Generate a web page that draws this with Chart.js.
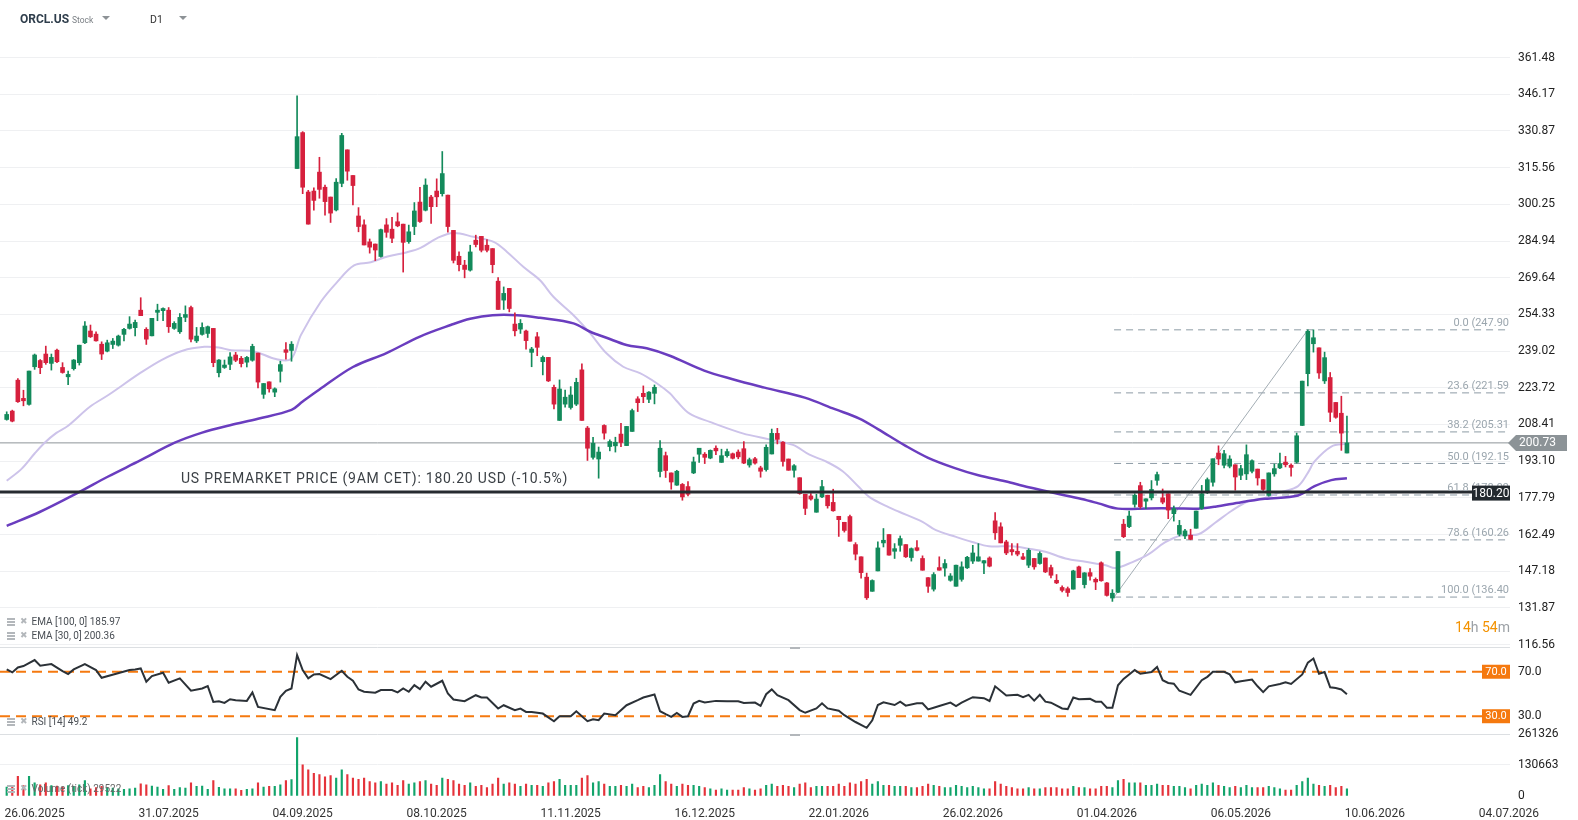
<!DOCTYPE html>
<html>
<head>
<meta charset="utf-8">
<script src="https://cdn.jsdelivr.net/npm/chart.js@4.4.1/dist/chart.umd.min.js"></script>
<style>
  html, body { margin: 0; padding: 0; background: #fff; }
  #wrap { position: relative; width: 1578px; height: 820px; overflow: hidden; font-family: Roboto, "Noto Sans", sans-serif; }
  #chart { position: absolute; left: 0; top: 0; }
  .t { position: absolute; white-space: nowrap; line-height: 1; }
  .tri { position: absolute; width: 0; height: 0; border-left: 4px solid transparent; border-right: 4px solid transparent; border-top: 4px solid #8d9296; }
  .ham { position: absolute; width: 8px; height: 2px; background: #b3b7bb; box-shadow: 0 3px 0 #b3b7bb, 0 6px 0 #b3b7bb; }
  .xx { position: absolute; font-size: 9px; line-height: 1; color: #b3b7bb; font-family: "DejaVu Sans", sans-serif; }
  .leg { font-size: 10px; color: #4a4f55; }
</style>
</head>
<body>
<div id="wrap">
  <canvas id="chart" width="1578" height="820"></canvas>

  <div class="t" style="left:20px;top:13px;font-size:12px;font-weight:bold;color:#2e3d4b">ORCL.US</div>
  <div class="t" style="left:72px;top:15.5px;font-size:8.5px;color:#7a7f84">Stock</div>
  <div class="tri" style="left:102px;top:16px"></div>
  <div class="t" style="left:150px;top:14.5px;font-size:10.5px;color:#333">D1</div>
  <div class="tri" style="left:179px;top:16px"></div>

  <div class="ham" style="left:7px;top:618px"></div><div class="xx" style="left:20px;top:617px">✖</div>
  <div class="t leg" style="left:31.5px;top:617.4px">EMA [100, 0] 185.97</div>
  <div class="ham" style="left:7px;top:631.5px"></div><div class="xx" style="left:20px;top:630.5px">✖</div>
  <div class="t leg" style="left:31.5px;top:630.8px">EMA [30, 0] 200.36</div>
  <div class="ham" style="left:7px;top:717.5px"></div><div class="xx" style="left:20px;top:716.5px">✖</div>
  <div class="t leg" style="left:31.5px;top:716.8px">RSI [14] 49.2</div>
  <div class="ham" style="left:7px;top:785px"></div><div class="xx" style="left:20px;top:784px">✖</div>
  <div class="t leg" style="left:31.5px;top:784.4px;color:#666">Volume (tick) 29522</div>

  <div class="t" style="left:181px;top:471.4px;font-size:14px;letter-spacing:0.78px;color:#3c4146">US PREMARKET PRICE (9AM CET): 180.20 USD (-10.5%)</div>
  <div class="t" style="right:68px;top:619.8px;font-size:14px;color:#9ba0a5"><span style="color:#f39200">14</span>h <span style="color:#f39200">54</span>m</div>
</div>

<script>
const dateIdx = [5, 29, 53, 77, 101, 125, 149, 173, 197, 221, 245, 269];
const dateLabels = ['26.06.2025', '31.07.2025', '04.09.2025', '08.10.2025', '11.11.2025', '16.12.2025',
  '22.01.2026', '26.02.2026', '01.04.2026', '06.05.2026', '10.06.2026', '04.07.2026'];
const priceTicks = [116.56, 131.87, 147.18, 162.49, 177.79, 193.10, 208.41, 223.72, 239.02,
  254.33, 269.64, 284.94, 300.25, 315.56, 330.87, 346.17, 361.48];
const rsiTicks = [30, 70];
const volTicks = [0, 130663, 261326];

const opens = [
  210.5,214.0,226.9,219.3,216.8,232.5,235.1,237.8,233.9,239.4,
  232.2,228.3,231.7,234.2,242.5,247.4,246.1,241.9,239.0,241.8,
  241.5,246.0,248.5,248.8,256.1,248.1,245.4,255.2,255.9,256.1,
  248.5,247.1,253.1,257.2,243.3,246.0,246.4,248.5,230.0,232.2,
  233.5,237.4,236.0,234.4,235.2,238.2,221.0,226.2,221.9,230.6,
  239.6,239.3,315.2,330.2,305.4,305.8,313.7,307.4,303.3,297.9,
  309.0,323.0,312.3,295.4,291.7,284.6,283.7,278.5,291.7,289.9,
  293.0,292.0,284.7,291.0,301.2,297.8,303.3,305.8,304.7,304.1,
  289.4,278.6,274.9,272.8,285.3,286.9,283.2,281.8,268.2,260.3,
  265.2,250.3,248.2,247.4,238.5,245.0,234.6,236.4,223.9,210.1,
  216.9,215.5,216.9,231.2,206.9,194.7,194.0,208.0,199.2,199.5,
  204.4,199.6,205.5,219.1,221.4,218.9,221.4,188.8,195.4,188.2,
  183.1,183.4,182.5,188.2,196.0,196.0,194.4,198.5,192.6,195.4,
  196.2,196.9,198.3,191.5,194.1,190.3,189.6,196.1,204.7,201.0,
  194.0,189.3,186.2,179.3,178.6,171.8,178.2,178.9,175.9,170.1,
  167.6,170.0,158.3,153.2,144.7,138.8,147.3,159.0,162.5,155.5,
  158.0,158.3,152.9,157.0,152.5,144.5,139.7,148.7,148.5,143.4,
  140.9,143.8,148.6,151.4,151.4,150.6,152.7,168.2,165.7,159.4,
  156.2,155.5,153.2,149.7,152.5,150.4,152.7,148.7,143.4,140.4,
  139.9,139.7,149.0,141.6,146.6,143.8,150.7,142.3,136.0,138.4,
  166.8,165.8,175.1,182.9,176.4,177.8,185.1,177.8,179.5,171.2,
  162.6,161.9,162.2,165.1,173.4,180.2,184.3,196.5,191.4,191.0,
  191.6,187.2,187.8,188.9,189.8,185.4,178.8,187.8,190.3,192.7,
  191.4,192.7,208.0,229.6,242.1,240.4,226.6,228.0,217.6,213.1,
  196.5];
const highs = [
  213.7,214.4,227.6,222.7,230.7,237.8,235.5,241.1,237.8,239.9,
  234.2,230.7,235.5,241.5,251.3,249.9,247.1,242.9,243.6,244.3,
  245.7,248.5,253.4,252.0,261.3,248.8,252.7,258.6,257.1,257.2,
  251.3,254.7,257.9,257.8,248.9,250.8,249.5,248.5,235.5,235.3,
  238.4,238.5,236.8,236.8,241.9,238.2,225.5,226.2,223.7,234.8,
  242.6,243.0,345.5,330.6,306.1,307.2,319.9,308.3,303.3,311.0,
  329.9,323.0,312.3,298.9,293.8,285.8,283.7,289.9,294.3,294.8,
  296.7,292.0,291.6,301.0,307.4,310.9,304.0,310.9,322.3,304.1,
  289.4,280.4,276.9,283.2,287.4,286.9,285.6,281.8,269.7,265.8,
  265.2,255.0,252.2,247.8,240.6,246.8,237.0,236.4,224.9,227.0,
  222.8,224.2,227.7,233.7,207.6,203.1,199.0,208.3,202.0,203.1,
  208.9,207.6,214.8,220.0,224.5,222.1,224.9,201.7,196.9,188.2,
  189.3,183.8,184.6,194.8,198.5,196.7,197.8,199.5,198.1,198.1,
  196.5,197.8,201.3,194.4,194.7,191.0,199.9,206.5,206.8,201.3,
  194.0,191.7,186.2,179.3,179.6,179.3,185.1,178.9,181.4,170.1,
  167.6,170.6,159.1,153.2,146.4,143.6,159.4,165.0,162.5,158.7,
  161.9,158.3,156.9,160.0,153.6,144.5,146.6,153.2,152.0,146.2,
  149.7,151.1,153.4,158.0,158.7,151.6,153.2,171.7,167.4,160.1,
  158.7,158.7,154.6,156.6,152.5,155.3,152.7,149.7,145.8,141.1,
  140.6,147.6,149.3,146.6,148.3,144.4,151.1,142.5,139.5,155.4,
  168.8,172.3,179.5,184.3,177.4,185.0,188.6,181.5,179.5,174.4,
  168.4,164.7,164.7,172.3,183.0,186.1,194.1,199.5,197.6,195.4,
  191.6,191.4,199.9,193.7,189.8,185.4,188.2,191.9,196.5,195.1,
  192.0,204.8,226.5,247.9,247.9,240.4,238.6,230.1,217.6,220.2,
  211.9];
const lows = [
  210.2,209.5,217.6,216.2,216.5,231.4,229.6,233.5,231.1,234.2,
  229.8,225.0,231.1,233.2,242.1,244.7,243.2,235.5,238.7,240.1,
  241.1,243.3,248.2,245.4,253.8,241.8,245.4,251.7,251.7,246.8,
  248.1,246.4,251.3,242.9,242.6,245.7,244.7,232.5,228.3,231.8,
  231.3,234.6,232.4,232.4,234.8,223.7,219.3,221.9,220.0,226.1,
  235.7,234.8,315.2,304.7,292.0,297.8,302.8,295.7,292.7,297.5,
  307.6,310.3,300.0,288.8,283.3,279.9,276.8,278.2,286.5,284.3,
  290.9,272.0,284.0,287.6,292.7,297.5,292.3,299.3,303.7,288.6,
  275.8,272.5,269.6,272.4,282.5,280.4,280.4,271.7,256.4,256.4,
  255.4,245.4,246.4,239.8,232.5,237.1,229.1,226.3,214.9,210.1,
  215.6,214.8,216.3,210.1,193.4,193.9,186.0,202.3,197.4,196.9,
  199.2,199.6,205.5,213.8,217.5,217.5,217.0,186.5,186.3,181.4,
  183.0,176.8,178.6,187.9,192.6,192.1,194.1,195.8,192.6,194.8,
  194.0,194.1,192.1,190.6,191.9,186.4,188.9,196.1,200.3,191.0,
  189.3,186.4,179.3,170.8,176.8,171.8,177.9,173.5,172.2,161.7,
  163.5,159.7,151.9,144.3,135.4,138.8,147.3,157.3,153.9,152.5,
  155.5,152.9,151.4,155.7,147.6,138.3,138.9,147.6,145.1,143.0,
  140.9,143.0,148.3,150.4,151.4,146.2,149.0,160.4,159.0,154.1,
  153.9,153.6,152.0,148.7,148.0,150.1,146.6,144.4,142.0,138.5,
  136.7,139.7,144.5,140.2,143.4,139.5,143.0,136.8,134.6,138.2,
  161.2,165.4,173.9,173.4,173.3,176.9,183.1,175.3,169.1,168.1,
  161.9,160.8,160.3,165.1,173.0,179.6,182.7,191.6,190.3,190.3,
  181.0,185.4,185.4,188.2,183.1,180.9,178.5,186.8,190.0,190.7,
  186.8,192.3,208.0,224.5,238.6,227.6,225.5,209.6,211.0,197.6,
  196.5];
const closes = [
  212.6,209.8,217.9,218.3,230.7,237.4,232.1,234.2,236.4,234.6,
  230.1,229.3,235.3,241.5,249.5,245.0,243.3,237.8,242.5,243.2,
  245.3,248.1,250.3,251.0,253.8,244.0,252.7,256.1,256.8,249.2,
  250.6,253.1,254.3,244.0,245.3,248.9,249.2,234.2,235.3,233.2,
  236.6,235.2,233.8,236.4,241.0,226.1,225.5,223.3,223.3,233.4,
  238.5,241.9,328.5,307.4,292.0,301.9,306.5,301.4,296.6,309.5,
  329.0,314.1,308.1,291.0,283.3,282.4,281.2,289.7,288.6,286.1,
  291.3,284.4,288.8,297.5,293.1,308.3,299.3,303.4,313.1,291.0,
  276.9,275.1,273.1,280.4,283.5,281.1,281.1,275.1,256.4,263.1,
  256.8,247.5,250.6,243.4,239.9,240.6,236.4,226.6,216.9,223.2,
  219.8,220.7,226.0,210.1,198.5,200.6,196.9,204.8,201.3,201.0,
  200.9,207.6,214.2,217.5,220.0,221.9,223.9,198.5,189.2,184.4,
  188.9,178.2,179.3,192.8,198.5,194.7,197.6,197.4,195.4,197.1,
  194.3,194.9,192.3,193.7,192.3,188.9,198.9,204.7,202.2,193.0,
  189.3,191.2,179.6,173.4,177.3,177.3,182.5,174.5,172.4,168.7,
  164.2,159.7,154.3,146.6,136.1,143.3,156.9,160.1,153.9,156.6,
  160.8,153.2,156.6,155.9,147.6,140.9,145.8,147.6,150.4,145.2,
  149.7,149.0,153.0,154.8,153.2,151.6,149.3,163.2,159.0,154.8,
  155.3,154.3,152.2,155.9,149.0,154.6,146.9,145.5,142.3,139.2,
  138.3,147.3,144.5,146.5,145.1,142.7,143.2,137.1,138.0,155.4,
  161.6,170.2,178.9,174.1,177.4,181.3,187.5,176.0,172.7,173.3,
  166.3,164.0,160.5,172.3,179.5,185.4,194.1,194.0,196.2,194.0,
  186.5,190.0,195.8,193.3,186.1,181.3,188.2,190.0,192.1,191.6,
  190.5,203.7,226.5,247.3,244.6,229.9,236.3,213.5,211.4,204.8,
  200.73];
const volumes = [
  37000,37000,82000,44000,82000,55000,47000,55000,44000,42000,
  37000,44000,40000,47000,65000,30000,35000,40000,35000,33000,
  30000,28000,30000,33000,51000,47000,42000,37000,28000,44000,
  28000,35000,33000,55000,40000,42000,28000,65000,36000,30000,
  30000,30000,24000,28000,30000,55000,37000,40000,40000,47000,
  65000,69000,245000,130000,110000,95000,90000,80000,85000,75000,
  110000,90000,75000,70000,75000,60000,55000,60000,50000,55000,
  45000,65000,50000,55000,60000,65000,50000,45000,75000,70000,
  65000,50000,45000,55000,40000,45000,35000,50000,75000,50000,
  55000,50000,40000,50000,45000,45000,40000,55000,60000,70000,
  45000,45000,45000,75000,85000,55000,60000,50000,40000,40000,
  45000,40000,50000,35000,40000,35000,45000,90000,60000,50000,
  40000,50000,45000,45000,40000,35000,30000,25000,30000,25000,
  25000,25000,35000,30000,25000,30000,45000,50000,40000,45000,
  40000,35000,50000,55000,35000,40000,40000,40000,40000,50000,
  40000,55000,50000,60000,70000,50000,60000,45000,45000,40000,
  40000,40000,35000,35000,40000,50000,45000,40000,35000,35000,
  45000,40000,35000,40000,35000,30000,30000,60000,50000,40000,
  35000,30000,30000,35000,30000,30000,35000,35000,35000,30000,
  30000,40000,35000,35000,30000,30000,40000,40000,35000,65000,
  70000,55000,55000,55000,45000,45000,50000,45000,45000,40000,
  40000,35000,30000,45000,50000,45000,55000,45000,40000,35000,
  40000,35000,45000,35000,35000,35000,40000,35000,30000,25000,
  25000,45000,60000,75000,50000,45000,40000,45000,35000,40000,
  29522];

const ema30Idx = [0, 2.7, 5, 6.8, 8.9, 11, 14.9, 18.2, 23.8, 27.7, 31.5, 35.4, 38, 40.2, 44.3, 48.2, 50.9,
  52.7, 56.25, 59.2, 62.2, 65.2, 68.2, 71.7, 74.1, 77.1, 80, 83.6, 87.2, 89.6, 92.5, 95.5, 97.9, 101.5,
  104.5, 107.4, 110.4, 113.4, 116.4, 118.75, 119.9, 122.3, 125.9, 131.8, 136.6, 140.8, 143.75, 146.7,
  149.7, 152.7, 154.5, 158, 159.8, 164, 166.4, 170, 172.9, 175.9, 180, 183, 186, 189.6, 193.2, 196.8,
  198.5, 201.5, 204.5, 207.4, 210.4, 213.4, 216.4, 219.3, 222.3, 225.3, 228.2, 231.25, 233, 234.2,
  237.2, 240];
const ema30Val = [184.9, 190.0, 196.3, 200.8, 204.9, 207.9, 215.8, 220.7, 229.7, 235.3, 239.2, 240.8, 240.5,
  239.4, 238.9, 235.7, 235.7, 245.8, 259.6, 267.9, 274.8, 276.1, 278.5, 280.3, 282.1, 286.2, 288.3,
  286.7, 284.6, 280.4, 274.2, 268.6, 261.7, 254.0, 246.4, 238.1, 232.5, 229.8, 225.6, 221.4, 218.4,
  212.9, 209.5, 204.7, 202.2, 199.9, 195.8, 193.0, 188.9, 182.1, 178.1, 173.8, 172.0, 167.8, 164.3,
  161.5, 159.4, 157.6, 157.6, 156.6, 155.3, 152.5, 151.1, 149.7, 148.5, 150.9, 154.3, 159.2, 162.2,
  162.6, 167.4, 172.3, 176.4, 177.8, 180.2, 182.7, 188.2, 193.0, 199.2, 200.36];

const ema100Idx = [0, 6, 12.8, 18, 24, 30, 35, 40, 45, 51, 53, 56, 62, 68, 74, 79.5, 83, 87, 91.4, 95.5,
  101.5, 104.5, 107.4, 111, 114.6, 118.75, 124.9, 130, 135.7, 142.9, 148.3, 152.7, 156, 160.9, 165,
  169.8, 174, 178.8, 183, 187.8, 192.5, 195.5, 199, 204.5, 209.2, 213.4, 216.4, 221.1, 225.3, 231.25,
  234.2, 237.2, 240];
const ema100Val = [166.1, 172.0, 180.0, 186.5, 193.5, 200.7, 205.0, 208.1, 210.8, 214.5, 218.0, 223.0,
  232.4, 238.2, 245.1, 249.9, 252.5, 254.0, 254.0, 252.9, 250.6, 247.1, 244.6, 241.6, 240.2, 237.1,
  230.9, 227.3, 223.8, 219.6, 214.8, 210.9, 206.5, 199.6, 194.5, 190.2, 187.2, 184.7, 182.2, 179.7,
  177.3, 175.5, 173.3, 173.4, 173.4, 173.3, 174.1, 176.0, 177.4, 178.8, 182.7, 185.2, 185.97];

const rsiIdx = [0, 1, 2, 3, 5, 6, 8, 10, 11, 12, 14, 16, 17, 22, 23, 24, 25, 26, 28, 29, 31, 33, 35, 36,
  37, 38, 39, 40, 41, 43, 44, 45, 48, 49, 50, 51, 52, 53, 54, 55, 56, 58, 60, 61, 62, 63, 64, 66, 67,
  69, 70, 71, 72, 73, 74, 75, 76, 78, 79, 80, 82, 84, 85, 86, 88, 89, 91, 92, 93, 94, 96, 98, 99, 101,
  102, 104, 105, 106, 107, 109, 111, 113, 114, 116, 117, 118, 119, 120, 121, 122, 123, 124, 125, 127,
  129, 131, 132, 134, 135, 136, 137, 138, 140, 142, 143, 145, 146, 147, 149, 150, 152, 154, 155, 156,
  157, 159, 160, 161, 163, 164, 165, 166, 167, 169, 170, 171, 172, 173, 175, 176, 177, 179, 181, 182,
  183, 184, 185, 186, 187, 189, 190, 191, 192, 194, 195, 196, 197, 198, 199, 200, 202, 203, 205, 206,
  207, 208, 209, 210, 212, 214, 215, 216, 218, 219, 220, 221, 223, 224, 225, 226, 228, 229, 230, 232,
  233, 234, 235, 236, 237, 238, 239, 240];
const rsiVal = [72.1, 69.4, 73.9, 75.1, 80.5, 75.4, 76.9, 70.6, 67.9, 72.1, 76.9, 71.5, 64.6, 71.5, 72.1,
  73.0, 61.0, 66.1, 69.1, 60.1, 64.0, 52.9, 55.0, 57.1, 42.9, 43.5, 42.0, 45.3, 44.4, 43.8, 51.4, 38.4,
  35.4, 47.4, 52.9, 55.0, 85.0, 71.5, 64.0, 67.6, 67.9, 63.4, 70.9, 65.5, 61.9, 54.1, 52.0, 51.1, 53.5,
  53.5, 51.4, 55.0, 52.0, 58.0, 54.4, 61.0, 56.5, 61.9, 50.4, 45.0, 43.5, 48.9, 46.8, 46.8, 36.9, 39.9,
  35.4, 36.9, 33.9, 33.9, 32.4, 25.5, 30.0, 30.0, 34.5, 25.5, 27.3, 26.4, 32.4, 30.9, 39.9, 44.4, 46.8,
  49.5, 34.5, 31.8, 29.4, 33.0, 29.4, 30.0, 41.4, 43.8, 42.3, 43.8, 43.5, 43.5, 42.0, 42.3, 39.3, 49.8,
  54.1, 48.9, 44.4, 35.5, 33.1, 37.0, 41.6, 37.0, 34.9, 30.9, 24.8, 19.6, 26.3, 40.1, 42.5, 40.1, 43.1,
  39.5, 41.6, 41.6, 36.1, 37.6, 39.2, 42.2, 39.2, 42.2, 44.7, 47.1, 46.2, 43.7, 56.9, 48.6, 49.2, 47.1,
  49.2, 44.0, 49.2, 43.1, 42.2, 37.0, 36.4, 46.8, 45.3, 45.6, 43.1, 43.1, 37.6, 37.6, 57.8, 63.6, 71.5,
  68.2, 69.7, 74.3, 62.4, 59.9, 59.3, 52.9, 49.2, 62.4, 65.4, 70.0, 70.0, 67.6, 60.5, 61.5, 63.0, 56.9,
  51.7, 56.9, 59.0, 60.5, 59.0, 67.6, 78.2, 81.9, 68.2, 69.7, 56.0, 55.3, 54.0, 49.8];

const lastPrice = 200.73;
const premarketPrice = 180.20;
const fibRatios = [0.0, 23.6, 38.2, 50.0, 61.8, 78.6, 100.0];
const fibLevels = [247.90, 221.59, 205.31, 192.15, 178.99, 160.26, 136.40];
const fibStartIdx = 198.3;
const fibSwing = [[198.3, 136.40], [233, 247.90]];

const xMin = -1.2, xMax = 269.2;
const green = '#138a5b', red = '#d6203d';
const idx = opens.map((_, i) => i);
const candleColors = idx.map(i => closes[i] >= opens[i] ? green : red);
const volColors = idx.map(i => closes[i] >= opens[i] ? '#12a46b' : '#e5323a');
const span = (v, from = xMin, to = xMax) => [{ x: from, y: v }, { x: to, y: v }];
const pts = (xs, ys) => xs.map((x, k) => ({ x, y: ys[k] }));

const flat = { type: 'line', pointRadius: 0, borderWidth: 1, fill: false, tension: 0 };

const datasets = [
  { ...flat, label: 'premarket', data: span(premarketPrice), yAxisID: 'y', borderColor: '#262b30', borderWidth: 3, order: 0 },
  { type: 'bar', label: 'body', data: idx.map(i => ({ x: i, y: [opens[i], closes[i]] })), yAxisID: 'y',
    backgroundColor: candleColors, barThickness: 4, minBarLength: 1, grouped: false, order: 1 },
  { type: 'bar', label: 'wick', data: idx.map(i => ({ x: i, y: [lows[i], highs[i]] })), yAxisID: 'y',
    backgroundColor: candleColors, barThickness: 1, grouped: false, order: 2 },
  { type: 'line', label: 'EMA100', data: pts(ema100Idx, ema100Val), yAxisID: 'y', borderColor: '#6a3dbf',
    borderWidth: 2.5, pointRadius: 0, tension: 0.35, order: 3 },
  { type: 'line', label: 'EMA30', data: pts(ema30Idx, ema30Val), yAxisID: 'y', borderColor: '#cdc3ea',
    borderWidth: 2, pointRadius: 0, tension: 0.35, order: 4 },
  { ...flat, label: 'last', data: span(lastPrice), yAxisID: 'y', borderColor: '#8d9499', order: 5 },
  { ...flat, label: 'swing', data: fibSwing.map(p => ({ x: p[0], y: p[1] })), yAxisID: 'y', borderColor: '#a3adb4', order: 6 },
  ...fibLevels.map(lv => ({ ...flat, label: 'fib', data: span(lv, fibStartIdx, xMax - 0.4), yAxisID: 'y',
    borderColor: '#8d9ba5', borderDash: [7, 5], order: 6 })),
  { type: 'bar', label: 'volume', data: idx.map(i => ({ x: i, y: volumes[i] })), yAxisID: 'yVol',
    backgroundColor: volColors, barThickness: 1.5, grouped: false, order: 2 },
  { ...flat, label: 'rsi70', data: span(70), yAxisID: 'yRsi', borderColor: '#f5790f', borderWidth: 2.2, borderDash: [10, 6], order: 3 },
  { ...flat, label: 'rsi30', data: span(30), yAxisID: 'yRsi', borderColor: '#f5790f', borderWidth: 2.2, borderDash: [10, 6], order: 3 },
  { type: 'line', label: 'RSI', data: pts(rsiIdx, rsiVal), yAxisID: 'yRsi', borderColor: '#2b3137',
    borderWidth: 2, pointRadius: 0, tension: 0, order: 1 }
];

function tag(ctx, x, y, w, h, fill, text, font) {
  ctx.fillStyle = fill;
  ctx.fillRect(x, y - h / 2, w, h);
  ctx.fillStyle = '#fff';
  ctx.font = font;
  ctx.textAlign = 'center';
  ctx.textBaseline = 'middle';
  ctx.fillText(text, x + w / 2, y + 0.5);
}

const overlay = {
  id: 'overlay',
  afterDatasetsDraw(chart) {
    const { ctx, chartArea: a, scales } = chart;
    const y = scales.y, r = scales.yRsi, v = scales.yVol;
    ctx.save();

    ctx.strokeStyle = '#dcdfe2';
    ctx.lineWidth = 1;
    [r.top, v.top].forEach(t => {
      ctx.beginPath();
      ctx.moveTo(a.left, Math.round(t) + 0.5);
      ctx.lineTo(a.right, Math.round(t) + 0.5);
      ctx.stroke();
      ctx.fillStyle = '#b3b7bb';
      ctx.fillRect(790, Math.round(t), 10, 2);
    });

    ctx.font = '11px Roboto';
    ctx.fillStyle = '#9ba6ae';
    ctx.textAlign = 'right';
    ctx.textBaseline = 'bottom';
    fibLevels.forEach((lv, k) => {
      ctx.fillText(fibRatios[k].toFixed(1) + ' (' + lv.toFixed(2), a.right - 1, y.getPixelForValue(lv) - 1);
    });

    tag(ctx, a.right - 38, y.getPixelForValue(premarketPrice) + 1, 38, 15, '#23292e', premarketPrice.toFixed(2), '12px Roboto');

    const py = y.getPixelForValue(lastPrice);
    ctx.fillStyle = '#8c9397';
    ctx.beginPath();
    ctx.moveTo(a.right - 2, py);
    ctx.lineTo(a.right + 6, py - 8);
    ctx.lineTo(a.right + 57, py - 8);
    ctx.lineTo(a.right + 57, py + 8);
    ctx.lineTo(a.right + 6, py + 8);
    ctx.closePath();
    ctx.fill();
    ctx.fillStyle = '#fff';
    ctx.font = '12px Roboto';
    ctx.textAlign = 'left';
    ctx.textBaseline = 'middle';
    ctx.fillText(lastPrice.toFixed(2), a.right + 9, py + 0.5);

    rsiTicks.forEach(t => tag(ctx, a.right - 28, r.getPixelForValue(t), 28, 14, '#f5790f', t.toFixed(1), '11px Roboto'));
    ctx.restore();
  }
};

Chart.defaults.font.family = 'Roboto';

new Chart(document.getElementById('chart'), {
  type: 'bar',
  data: { datasets },
  plugins: [overlay],
  options: {
    responsive: false,
    animation: false,
    devicePixelRatio: 1,
    layout: { padding: { top: 40, left: 0, right: 0, bottom: 0 } },
    plugins: { legend: { display: false }, tooltip: { enabled: false } },
    scales: {
      x: {
        type: 'linear', min: xMin, max: xMax, offset: false,
        grid: { display: false }, border: { display: false },
        afterBuildTicks: s => { s.ticks = dateIdx.map(v => ({ value: v })); },
        afterFit: s => { s.height = 24; },
        ticks: { autoSkip: false, maxRotation: 0, padding: 3, color: '#333', font: { size: 12 },
          callback: (val, k) => dateLabels[k] }
      },
      y: {
        type: 'linear', position: 'right', stack: 'panes', stackWeight: 606.7,
        min: 115.59, max: 368.83,
        grid: { color: '#eff0f2', drawTicks: false }, border: { display: false },
        afterBuildTicks: s => { s.ticks = priceTicks.map(v => ({ value: v })); },
        afterFit: s => { s.width = 68; },
        ticks: { autoSkip: false, padding: 8, color: '#222', font: { size: 12 }, callback: val => val.toFixed(2) }
      },
      yRsi: {
        type: 'linear', position: 'right', stack: 'panes', stackWeight: 86.6,
        min: 14.4, max: 92.3,
        grid: { display: false, drawTicks: false }, border: { display: false },
        afterBuildTicks: s => { s.ticks = rsiTicks.map(v => ({ value: v })); },
        afterFit: s => { s.width = 68; },
        ticks: { autoSkip: false, padding: 8, color: '#222', font: { size: 12 }, callback: val => val.toFixed(1) }
      },
      yVol: {
        type: 'linear', position: 'right', stack: 'panes', stackWeight: 62.4,
        min: 0, max: 261326,
        grid: { drawTicks: false, color: c => (c.tick && c.tick.value === volTicks[1]) ? '#eff0f2' : 'rgba(0,0,0,0)' },
        border: { display: false },
        afterBuildTicks: s => { s.ticks = volTicks.map(v => ({ value: v })); },
        afterFit: s => { s.width = 68; },
        ticks: { autoSkip: false, padding: 8, color: '#222', font: { size: 12 }, callback: val => String(val) }
      }
    }
  }
});
</script>
</body>
</html>
